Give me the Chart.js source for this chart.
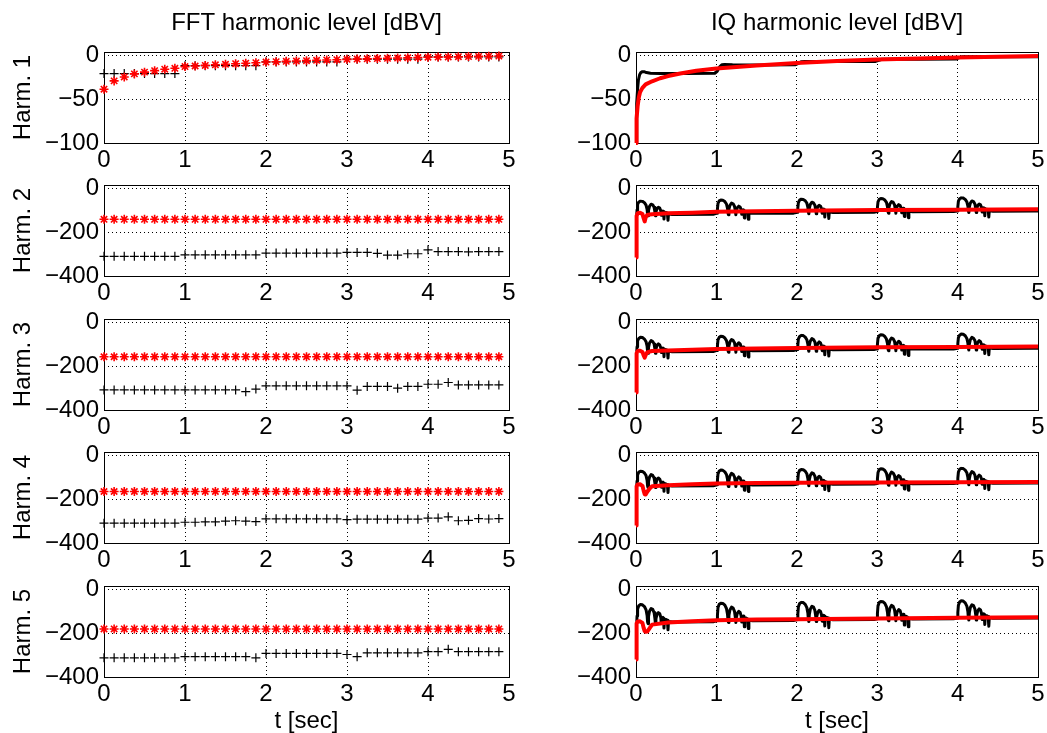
<!DOCTYPE html>
<html>
<head>
<meta charset="utf-8">
<script src="https://cdn.jsdelivr.net/npm/chart.js@4.4.0/dist/chart.umd.min.js"></script>
<style>
    html, body { margin: 0; padding: 0; background: #fff; }
    body { width: 1047px; height: 733px; overflow: hidden; position: relative; }
    canvas { position: absolute; }
</style>
</head>
<body>
<script>
// ---- data ----
const colTitles = ['FFT harmonic level [dBV]', 'IQ harmonic level [dBV]'];
const rowLabels = ['Harm. 1', 'Harm. 2', 'Harm. 3', 'Harm. 4', 'Harm. 5'];
const xTicks = [0, 1, 2, 3, 4, 5];
const yTicksH1 = [-100, -50, 0];
const yTicksHn = [-400, -200, 0];

// FFT estimates, one every 1/8 s
const fftT = [0, 0.125, 0.25, 0.375, 0.5, 0.625, 0.75, 0.875, 1, 1.125, 1.25, 1.375, 1.5, 1.625, 1.75, 1.875,
    2, 2.125, 2.25, 2.375, 2.5, 2.625, 2.75, 2.875, 3, 3.125, 3.25, 3.375, 3.5, 3.625, 3.75, 3.875,
    4, 4.125, 4.25, 4.375, 4.5, 4.625, 4.75, 4.875];

const fftRed1 = [-38.5, -29, -24.5, -21, -19, -17.3, -15.7, -14.6, -12.7, -12, -11.3, -10.6, -10, -9.4, -8.8, -8.2,
    -7.5, -7.1, -6.7, -6.3, -5.9, -5.5, -5.1, -4.8, -4.4, -4.1, -3.8, -3.5, -3.2, -2.9, -2.6, -2.3,
    -2, -1.8, -1.6, -1.4, -1.2, -1, -0.8, -0.6];
const fftBlack1 = [-20.7, -20.7, -20.7, -20.7, -20.7, -20.7, -20.7, -20.7, -11.6, -11.6, -11.6, -11.6, -11.6, -11.6, -11.6, -11.6,
    -7.3, -7.3, -7.3, -7.3, -7.3, -7.3, -7.3, -7.3, -4.2, -4.2, -4.2, -4.2, -4.2, -4.2, -4.2, -4.2,
    -1.6, -1.6, -1.6, -1.6, -1.6, -1.6, -1.6, -1.6];

const fftRed2 = [-140, -140, -140, -140, -140, -140, -140, -140, -140, -140, -140, -140, -140, -140, -140, -140,
    -140, -140, -140, -140, -140, -140, -140, -140, -140, -140, -140, -140, -140, -140, -140, -140,
    -140, -140, -140, -140, -140, -140, -140, -140];
const fftBlack2 = [-310, -310, -310, -310, -310, -310, -310, -310, -303, -303, -303, -303, -303, -303, -303, -303,
    -295, -295, -295, -295, -295, -295, -295, -295, -292, -292, -292, -296, -304, -304, -298, -298,
    -280, -288, -288, -288, -289, -288, -288, -288];

const fftRed3 = [-156, -156, -156, -156, -156, -156, -156, -156, -156, -156, -156, -156, -156, -156, -156, -156,
    -156, -156, -156, -156, -156, -156, -156, -156, -156, -156, -156, -156, -156, -156, -156, -156,
    -156, -156, -156, -156, -156, -156, -156, -156];
const fftBlack3 = [-308, -308, -308, -308, -308, -308, -308, -308, -308, -308, -308, -308, -308, -308, -316, -304,
    -289, -289, -289, -289, -289, -289, -289, -289, -289, -309, -292, -292, -292, -300, -292, -292,
    -282, -282, -274, -285, -285, -285, -285, -285];

const fftRed4 = [-164, -164, -164, -164, -164, -164, -164, -164, -164, -164, -164, -164, -164, -164, -164, -164,
    -164, -164, -164, -164, -164, -164, -164, -164, -164, -164, -164, -164, -164, -164, -164, -164,
    -164, -164, -164, -164, -164, -164, -164, -164];
const fftBlack4 = [-309, -309, -309, -309, -309, -309, -309, -309, -305, -305, -303, -303, -300, -298, -300, -302,
    -289, -289, -289, -289, -289, -289, -289, -289, -293, -291, -291, -291, -291, -291, -291, -291,
    -286, -286, -280, -298, -296, -288, -290, -288];

const fftRed5 = [-180, -180, -180, -180, -180, -180, -180, -180, -180, -180, -180, -180, -180, -180, -180, -180,
    -180, -180, -180, -180, -180, -180, -180, -180, -180, -180, -180, -180, -180, -180, -180, -180,
    -180, -180, -180, -180, -180, -180, -180, -180];
const fftBlack5 = [-312, -312, -312, -312, -312, -312, -312, -312, -307, -307, -307, -307, -307, -307, -307, -312,
    -292, -292, -292, -292, -292, -292, -292, -292, -297, -307, -289, -289, -289, -289, -289, -289,
    -284, -284, -273, -284, -284, -284, -284, -284];

// IQ, harmonic 1
const iqBlackT1 = [0, 0.005, 0.012, 0.02, 0.03, 0.045, 0.06, 0.08, 0.1, 0.13, 0.18, 0.3, 0.6, 0.98, 1.01, 1.04, 1.07, 1.1, 1.2, 1.5, 1.98,
    2.02, 2.06, 2.1, 2.5, 2.98, 3.02, 3.06, 3.1, 3.5, 3.98, 4.02, 4.06, 4.1, 4.5, 5];
const iqBlackV1 = [-100, -80, -55, -38, -28, -22, -19.5, -18.5, -18.5, -19.5, -20.3, -20.6, -20.6, -20.3, -18, -13, -10.5, -10.3, -10.7, -10.8, -10.6,
    -9, -7, -6.8, -7, -6.8, -5.5, -4.3, -4.2, -4.3, -4, -2.5, -1.4, -1.3, -1.3, -1.3];
const iqRedT1 = [0, 0.004, 0.01, 0.02, 0.035, 0.05, 0.08, 0.12, 0.2, 0.3, 0.4, 0.55, 0.75, 1, 1.5, 2, 2.5, 3, 3.5, 4, 4.5, 5];
const iqRedV1 = [-100, -88, -72, -58, -48, -42, -37, -33, -29.5, -26, -23.5, -20.5, -17.5, -14.8, -11.3, -8.5, -6.3, -4.6, -3.3, -2.3, -1.3, -0.5];

// IQ, harmonics 2..5: red traces
const iqRedT = [0, 0.005, 0.01, 0.02, 0.05, 0.08, 0.095, 0.108, 0.12, 0.14, 0.17, 0.2, 0.4, 0.7, 1, 1.5, 2, 3, 4, 5];
const iqRedV2 = [-315, -240, -125, -112, -110, -116, -135, -150, -132, -120, -118, -117, -113, -110, -106, -103, -101, -98, -96, -94];
const iqRedV3 = [-320, -240, -140, -130, -128, -134, -150, -160, -148, -136, -132, -130, -127, -124, -121, -118, -116, -113, -111, -109];
const iqRedV4 = [-320, -240, -140, -132, -131, -138, -160, -176, -178, -165, -150, -140, -135, -131, -127, -125, -124, -123, -122, -121];
const iqRedV5 = [-320, -240, -155, -146, -145, -152, -175, -190, -193, -192, -176, -160, -150, -145, -140, -137, -135, -132, -129, -126];

// black traces: the same burst repeats once a second, slowly rising
const burstT = [0.01, 1.01, 2.01, 3.0, 4.0];
const burstDt = [0, 0.003, 0.01, 0.025, 0.045, 0.07, 0.095, 0.115, 0.128, 0.134, 0.14, 0.146, 0.158, 0.178, 0.198, 0.215, 0.225, 0.232,
    0.238, 0.25, 0.268, 0.285, 0.298, 0.305, 0.312, 0.325, 0.332, 0.338, 0.344, 0.36, 0.38, 0.388, 0.394, 0.42, 0.44, 0.95];
const burstV2 = [-117, -97, -72, -61, -57, -58, -64, -75, -95, -117, -124, -99, -81, -71, -74, -85, -105, -124,
    -107, -92, -85, -89, -101, -122, -105, -102, -105, -139, -109, -109, -112, -145, -116, -117, -118, -117];
const burstV3 = [-132, -110, -83, -72, -67, -68, -75, -87, -108, -132, -140, -113, -93, -82, -86, -97, -119, -140,
    -121, -105, -97, -102, -115, -137, -119, -116, -119, -156, -123, -123, -127, -162, -131, -132, -133, -132];
const burstV4 = [-138, -116, -88, -75, -71, -72, -79, -91, -113, -138, -146, -118, -98, -86, -90, -102, -125, -146,
    -127, -110, -102, -107, -120, -144, -125, -121, -125, -163, -129, -129, -132, -169, -137, -138, -139, -138];
const burstV5 = [-147, -121, -88, -73, -68, -69, -77, -92, -118, -147, -156, -123, -99, -86, -90, -105, -131, -156,
    -134, -114, -105, -110, -126, -154, -131, -127, -131, -176, -136, -136, -140, -184, -146, -147, -148, -147];
const burstShift2 = [0, 5, 9, 12, 15];
const burstShift3 = [0, 5, 9, 12, 15];
const burstShift4 = [0, 5, 8, 11, 13];
const burstShift5 = [0, 6, 10, 14, 17];

// ---- layout ----
const FONT = '"Liberation Sans", Arial, Helvetica, sans-serif';
Chart.defaults.font.family = FONT;
Chart.defaults.font.size = 24;
Chart.defaults.color = '#000';

const plotTop = [52, 185, 319, 452, 586];
const plotH = 91;
const cols = [
    {left: 0, width: 530, yw: 104, padRight: 21},
    {left: 550, width: 510, yw: 86, padRight: 22}
];

function fmt(v) {
    return v < 0 ? '\u2212' + Math.abs(v) : String(v);
}

function pts(xs, ys) {
    return xs.map((x, i) => ({x: x, y: ys[i]}));
}

function burstLine(vals, shift) {
    let out = [];
    burstT.forEach((t0, i) => {
        burstDt.forEach((dt, j) => out.push({x: t0 + dt, y: vals[j] + shift[i]}));
    });
    out.push({x: 5, y: vals[vals.length - 1] + shift[shift.length - 1]});
    return out;
}

const boxPlugin = {
    id: 'box',
    beforeDatasetsDraw(chart) {
        const a = chart.chartArea, ctx = chart.ctx;
        ctx.save();
        ctx.strokeStyle = '#000';
        ctx.lineWidth = 1;
        ctx.strokeRect(Math.floor(a.left) + 0.5, Math.floor(a.top) + 0.5, Math.round(a.right - a.left), Math.round(a.bottom - a.top));
        ctx.restore();
    }
};

function addCanvas(left, top, w, h) {
    const c = document.createElement('canvas');
    c.width = w;
    c.height = h;
    c.style.left = left + 'px';
    c.style.top = top + 'px';
    c.style.width = w + 'px';
    c.style.height = h + 'px';
    document.body.appendChild(c);
    return c;
}

function makePanel(row, colIdx, datasets) {
    const col = cols[colIdx];
    const canvasTop = row === 0 ? 0 : plotTop[row] - 30;
    const xAxisH = row === 4 ? 70 : 40;
    const h = (plotTop[row] - canvasTop) + plotH + xAxisH;
    const canvas = addCanvas(col.left, canvasTop, col.width, h);

    const yT = row === 0 ? yTicksH1 : yTicksHn;
    const grid = {color: '#000', lineWidth: 1, drawTicks: false};
    const border = {display: false, dash: [1, 3]};

    new Chart(canvas.getContext('2d'), {
        type: 'scatter',
        data: {datasets: datasets},
        options: {
            responsive: false,
            animation: false,
            events: [],
            layout: {padding: {top: row === 0 ? 0 : 30, right: col.padRight, bottom: 0, left: 0}},
            plugins: {
                legend: {display: false},
                tooltip: {enabled: false},
                title: {
                    display: row === 0,
                    text: colTitles[colIdx],
                    fullSize: false,
                    font: {size: 24, weight: 'normal'},
                    color: '#000',
                    padding: {top: 9, bottom: 14.2}
                }
            },
            scales: {
                x: {
                    type: 'linear', min: 0, max: 5,
                    afterBuildTicks: s => { s.ticks = xTicks.map(v => ({value: v})); },
                    afterFit: s => { s.height = xAxisH; },
                    ticks: {padding: 3, autoSkip: false, maxRotation: 0, callback: v => fmt(v)},
                    grid: grid,
                    border: border,
                    title: {display: row === 4, text: 't [sec]', padding: {top: 0, bottom: 11.6}}
                },
                y: {
                    type: 'linear',
                    min: row === 0 ? -100 : -400,
                    max: row === 0 ? 4 : 17,
                    afterBuildTicks: s => { s.ticks = yT.map(v => ({value: v})); },
                    afterFit: s => { s.width = col.yw; },
                    ticks: {padding: 5, callback: v => fmt(v)},
                    grid: grid,
                    border: border,
                    title: {display: colIdx === 0, text: rowLabels[row], padding: {top: 8.6, bottom: 0}}
                }
            }
        },
        plugins: [boxPlugin]
    });
}

function fftSets(red, black) {
    return [
        {data: pts(fftT, red), pointStyle: 'star', pointRadius: 4.5, borderColor: '#ff0000', backgroundColor: '#ff0000', pointBorderWidth: 1.6, clip: false},
        {data: pts(fftT, black), pointStyle: 'cross', pointRadius: 4.5, borderColor: '#000', backgroundColor: '#000', pointBorderWidth: 1.2, clip: false}
    ];
}

function iqSets(red, black) {
    return [
        {data: red, showLine: true, pointRadius: 0, borderColor: '#ff0000', borderWidth: 4, borderJoinStyle: 'round', clip: false},
        {data: black, showLine: true, pointRadius: 0, borderColor: '#000', borderWidth: 3, borderJoinStyle: 'round', clip: false}
    ];
}

const fftData = [[fftRed1, fftBlack1], [fftRed2, fftBlack2], [fftRed3, fftBlack3], [fftRed4, fftBlack4], [fftRed5, fftBlack5]];
const iqData = [
    [pts(iqRedT1, iqRedV1), pts(iqBlackT1, iqBlackV1)],
    [pts(iqRedT, iqRedV2), burstLine(burstV2, burstShift2)],
    [pts(iqRedT, iqRedV3), burstLine(burstV3, burstShift3)],
    [pts(iqRedT, iqRedV4), burstLine(burstV4, burstShift4)],
    [pts(iqRedT, iqRedV5), burstLine(burstV5, burstShift5)]
];

for (let r = 0; r < 5; r++) {
    makePanel(r, 0, fftSets(fftData[r][0], fftData[r][1]));
    makePanel(r, 1, iqSets(iqData[r][0], iqData[r][1]));
}
</script>
</body>
</html>
